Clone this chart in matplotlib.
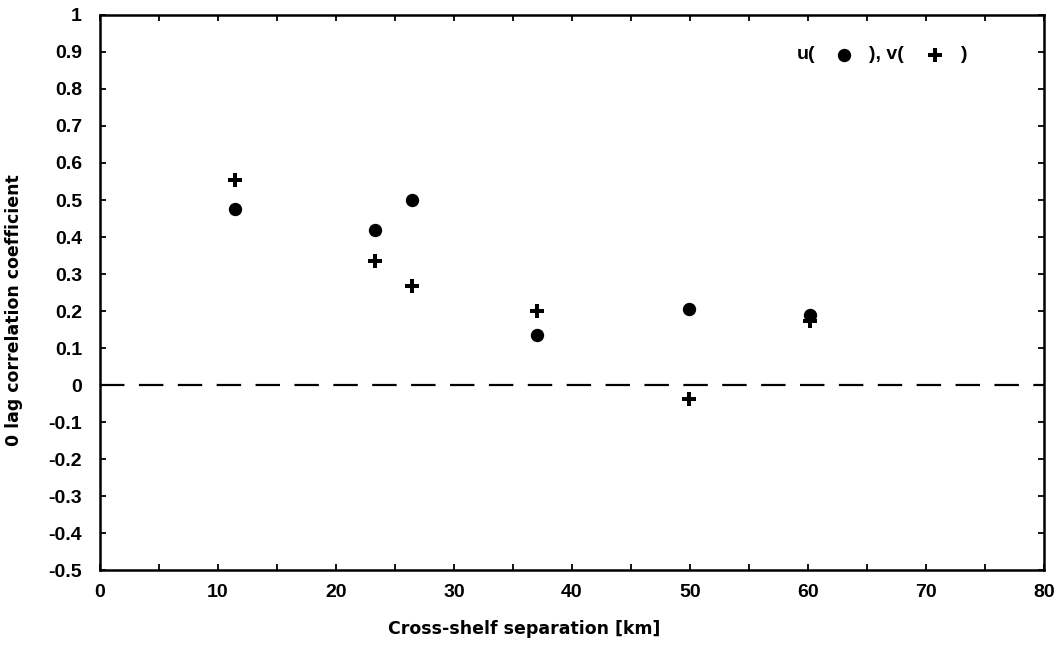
import matplotlib
matplotlib.use("Agg")
import matplotlib.pyplot as plt
from matplotlib.ticker import MultipleLocator

# Data
sep_km = [11.4, 23.3, 26.4, 37.0, 49.9, 60.2]
u_corr = [0.475, 0.418, 0.500, 0.135, 0.205, 0.188]
v_corr = [0.555, 0.336, 0.268, 0.200, -0.038, 0.172]
zero_x = [0, 80]
zero_y = [0, 0]

x_ticks = [0, 10, 20, 30, 40, 50, 60, 70, 80]
y_ticks = [-0.5, -0.4, -0.3, -0.2, -0.1, 0, 0.1, 0.2, 0.3, 0.4, 0.5, 0.6, 0.7, 0.8, 0.9, 1]
y_tick_labels = ["-0.5", "-0.4", "-0.3", "-0.2", "-0.1", "0", "0.1", "0.2", "0.3",
                 "0.4", "0.5", "0.6", "0.7", "0.8", "0.9", "1"]

plt.rcParams['font.family'] = ['Liberation Sans', 'DejaVu Sans']
plt.rcParams['font.weight'] = 'bold'

fig = plt.figure(figsize=(10.61, 6.49), dpi=100)
ax = fig.add_axes([0.0943, 0.1217, 0.8897, 0.8552])

ax.plot(zero_x, zero_y, color='black', lw=1.6, dashes=(11, 6.5), zorder=1)
ax.plot(sep_km, u_corr, 'o', color='black', ms=8.6, mec='black', zorder=3)
ax.plot(sep_km, v_corr, 'P', color='black', ms=9.5, mec='black', mew=0, zorder=3)

ax.set_xlim(0, 80)
ax.set_ylim(-0.5, 1)
ax.set_xticks(x_ticks)
ax.set_xticklabels([str(t) for t in x_ticks])
ax.xaxis.set_minor_locator(MultipleLocator(5))
ax.set_yticks(y_ticks)
ax.set_yticklabels(y_tick_labels)

ax.tick_params(axis='both', which='both', direction='in', top=True, right=True,
               length=4, width=1.3, labelsize=14)
ax.tick_params(axis='x', which='minor', length=4)
ax.tick_params(axis='y', pad=13)
ax.tick_params(axis='x', pad=10)
for lbl in ax.get_xticklabels() + ax.get_yticklabels():
    lbl.set_fontweight('bold')
for s in ax.spines.values():
    s.set_linewidth(1.8)

ax.set_xlabel("Cross-shelf separation [km]", fontsize=12.5, fontweight='bold',
              family=['DejaVu Sans'])
ax.xaxis.set_label_coords(0.449, -0.090)
ax.set_ylabel("0 lag correlation coefficient", fontsize=12.5, fontweight='bold',
              family=['DejaVu Sans'])
ax.yaxis.set_label_coords(-0.0816, 0.469)

# Legend-like annotation: u( ● ), v( + )
ly = 0.928
ax.text(0.738, ly, "u(", transform=ax.transAxes, fontsize=14, fontweight='bold',
        va='center', ha='left')
ax.plot([0.788], [ly], 'o', color='black', ms=8.6, transform=ax.transAxes, clip_on=False)
ax.text(0.815, ly, "), v(", transform=ax.transAxes, fontsize=14, fontweight='bold',
        va='center', ha='left')
ax.plot([0.8845], [ly], 'P', color='black', ms=9.5, mew=0, transform=ax.transAxes, clip_on=False)
ax.text(0.912, ly, ")", transform=ax.transAxes, fontsize=14, fontweight='bold',
        va='center', ha='left')

fig.savefig("out.png", dpi=100)
